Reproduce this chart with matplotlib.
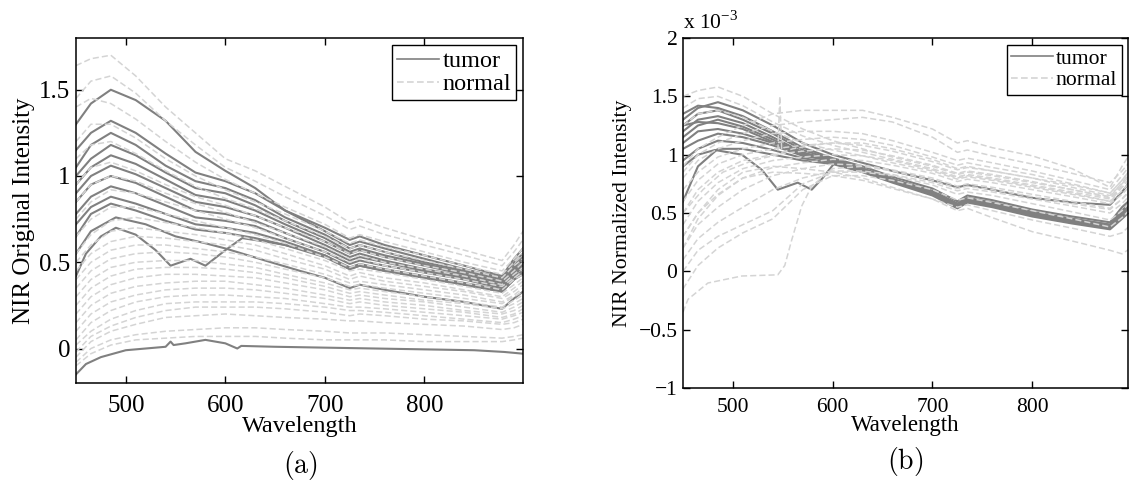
import numpy as np
import matplotlib.pyplot as plt
from matplotlib.lines import Line2D

plt.rcParams['font.family'] = ['Liberation Serif', 'DejaVu Serif']
plt.rcParams['mathtext.fontset'] = 'stix'

# common wavelength grid (nm) used by most spectra
wl = [450, 465, 485, 510, 540, 570, 600, 630, 660, 700, 725, 735, 760, 800, 840, 878, 890, 899]

# ---------------- (a) original intensity ----------------
tumor_orig = [
    [1.30, 1.42, 1.50, 1.44, 1.32, 1.14, 1.03, 0.93, 0.80, 0.70, 0.63, 0.65, 0.60, 0.54, 0.48, 0.42, 0.52, 0.58],
    [1.15, 1.25, 1.32, 1.25, 1.13, 1.02, 0.97, 0.90, 0.80, 0.68, 0.60, 0.62, 0.58, 0.52, 0.46, 0.41, 0.50, 0.55],
    [1.05, 1.18, 1.25, 1.18, 1.06, 0.97, 0.93, 0.86, 0.76, 0.66, 0.58, 0.60, 0.56, 0.50, 0.45, 0.40, 0.48, 0.53],
    [1.00, 1.10, 1.18, 1.12, 1.02, 0.93, 0.90, 0.83, 0.74, 0.64, 0.56, 0.58, 0.54, 0.49, 0.44, 0.39, 0.47, 0.52],
    [0.95, 1.05, 1.12, 1.07, 0.98, 0.89, 0.86, 0.80, 0.72, 0.62, 0.55, 0.57, 0.53, 0.48, 0.43, 0.38, 0.46, 0.50],
    [0.90, 1.00, 1.06, 1.01, 0.93, 0.85, 0.82, 0.77, 0.70, 0.60, 0.53, 0.55, 0.51, 0.46, 0.42, 0.37, 0.45, 0.49],
    [0.85, 0.95, 1.00, 0.96, 0.88, 0.80, 0.78, 0.74, 0.67, 0.58, 0.51, 0.53, 0.50, 0.45, 0.41, 0.36, 0.44, 0.48],
    [0.78, 0.88, 0.94, 0.90, 0.83, 0.76, 0.74, 0.71, 0.64, 0.56, 0.49, 0.51, 0.48, 0.44, 0.40, 0.35, 0.43, 0.47],
    [0.72, 0.82, 0.88, 0.84, 0.78, 0.72, 0.70, 0.67, 0.62, 0.54, 0.47, 0.49, 0.46, 0.42, 0.38, 0.34, 0.42, 0.45],
    [0.65, 0.78, 0.84, 0.80, 0.74, 0.69, 0.67, 0.64, 0.60, 0.53, 0.46, 0.48, 0.45, 0.41, 0.37, 0.33, 0.40, 0.44],
]
# tumor spectra with their own wavelength samples
dip_wl = [450, 460, 475, 490, 510, 530, 545, 565, 580, 600, 617, 640, 660, 700, 725, 735, 760, 800, 840, 878, 890, 899]
dip_orig = [0.42, 0.55, 0.65, 0.70, 0.66, 0.57, 0.48, 0.52, 0.48, 0.57, 0.64, 0.62, 0.60, 0.54, 0.46, 0.48, 0.45, 0.41, 0.37, 0.33, 0.40, 0.43]
low_wl = [450, 465, 490, 520, 550, 580, 600, 640, 675, 700, 725, 735, 760, 800, 840, 878, 890, 899]
low_orig = [0.55, 0.68, 0.76, 0.72, 0.65, 0.61, 0.58, 0.51, 0.45, 0.41, 0.35, 0.37, 0.34, 0.30, 0.27, 0.23, 0.29, 0.33]
zero_wl = [450, 460, 475, 500, 520, 540, 545, 548, 560, 580, 600, 612, 616, 650, 700, 750, 800, 850, 880, 899]
zero_orig = [-0.15, -0.09, -0.05, -0.01, 0.00, 0.01, 0.04, 0.02, 0.03, 0.05, 0.03, 0.00, 0.015, 0.01, 0.005, 0.0, -0.005, -0.01, -0.02, -0.03]

normal_orig = [
    [1.64, 1.68, 1.70, 1.58, 1.40, 1.25, 1.10, 1.03, 0.94, 0.82, 0.73, 0.75, 0.70, 0.63, 0.57, 0.51, 0.60, 0.68],
    [1.45, 1.55, 1.58, 1.48, 1.32, 1.18, 1.05, 0.97, 0.88, 0.77, 0.69, 0.71, 0.66, 0.60, 0.54, 0.48, 0.56, 0.63],
    [1.40, 1.45, 1.42, 1.33, 1.20, 1.08, 0.98, 0.90, 0.82, 0.72, 0.64, 0.66, 0.62, 0.56, 0.50, 0.45, 0.52, 0.58],
    [1.20, 1.30, 1.30, 1.22, 1.10, 1.00, 0.92, 0.85, 0.78, 0.68, 0.61, 0.63, 0.59, 0.54, 0.48, 0.43, 0.50, 0.55],
    [1.10, 1.18, 1.20, 1.13, 1.03, 0.94, 0.87, 0.81, 0.74, 0.65, 0.58, 0.60, 0.56, 0.51, 0.46, 0.41, 0.48, 0.52],
    [0.95, 1.05, 1.08, 1.03, 0.95, 0.88, 0.83, 0.77, 0.70, 0.62, 0.55, 0.57, 0.53, 0.48, 0.44, 0.39, 0.45, 0.50],
    [0.85, 0.95, 1.00, 0.97, 0.90, 0.84, 0.79, 0.73, 0.67, 0.59, 0.52, 0.54, 0.50, 0.46, 0.42, 0.37, 0.43, 0.47],
    [0.75, 0.85, 0.92, 0.90, 0.85, 0.80, 0.75, 0.70, 0.64, 0.56, 0.50, 0.52, 0.48, 0.44, 0.40, 0.36, 0.41, 0.45],
    [0.65, 0.75, 0.82, 0.82, 0.78, 0.74, 0.70, 0.66, 0.61, 0.53, 0.47, 0.49, 0.46, 0.42, 0.38, 0.34, 0.40, 0.43],
    [0.55, 0.66, 0.74, 0.76, 0.73, 0.70, 0.67, 0.63, 0.58, 0.51, 0.45, 0.46, 0.44, 0.40, 0.36, 0.32, 0.37, 0.41],
    [0.50, 0.60, 0.68, 0.70, 0.68, 0.66, 0.63, 0.60, 0.55, 0.48, 0.42, 0.44, 0.41, 0.38, 0.34, 0.30, 0.35, 0.39],
    [0.45, 0.55, 0.62, 0.65, 0.64, 0.62, 0.60, 0.57, 0.52, 0.46, 0.40, 0.42, 0.39, 0.36, 0.33, 0.29, 0.33, 0.37],
    [0.40, 0.50, 0.57, 0.60, 0.60, 0.58, 0.56, 0.53, 0.49, 0.43, 0.38, 0.39, 0.37, 0.34, 0.31, 0.27, 0.31, 0.35],
    [0.35, 0.45, 0.52, 0.55, 0.56, 0.55, 0.53, 0.50, 0.46, 0.41, 0.36, 0.37, 0.35, 0.32, 0.29, 0.26, 0.30, 0.33],
    [0.30, 0.40, 0.47, 0.50, 0.51, 0.51, 0.49, 0.47, 0.43, 0.38, 0.34, 0.35, 0.33, 0.30, 0.27, 0.24, 0.28, 0.31],
    [0.25, 0.35, 0.42, 0.46, 0.47, 0.47, 0.46, 0.44, 0.41, 0.36, 0.32, 0.33, 0.31, 0.28, 0.26, 0.23, 0.26, 0.29],
    [0.20, 0.30, 0.37, 0.41, 0.43, 0.43, 0.42, 0.41, 0.38, 0.34, 0.30, 0.31, 0.29, 0.27, 0.24, 0.21, 0.24, 0.27],
    [0.15, 0.25, 0.32, 0.36, 0.38, 0.39, 0.39, 0.37, 0.35, 0.31, 0.28, 0.29, 0.27, 0.25, 0.22, 0.20, 0.22, 0.25],
    [0.10, 0.20, 0.27, 0.31, 0.34, 0.35, 0.35, 0.34, 0.32, 0.29, 0.26, 0.27, 0.25, 0.23, 0.21, 0.18, 0.20, 0.23],
    [0.05, 0.15, 0.22, 0.27, 0.30, 0.31, 0.31, 0.30, 0.29, 0.26, 0.24, 0.24, 0.23, 0.21, 0.19, 0.17, 0.19, 0.21],
    [0.02, 0.10, 0.17, 0.22, 0.26, 0.27, 0.27, 0.27, 0.26, 0.24, 0.22, 0.22, 0.21, 0.19, 0.17, 0.15, 0.17, 0.19],
    [-0.02, 0.07, 0.13, 0.18, 0.22, 0.24, 0.24, 0.24, 0.23, 0.21, 0.19, 0.20, 0.19, 0.17, 0.16, 0.14, 0.15, 0.17],
    [-0.05, 0.04, 0.10, 0.14, 0.18, 0.19, 0.20, 0.19, 0.18, 0.17, 0.16, 0.16, 0.15, 0.14, 0.13, 0.11, 0.12, 0.14],
    [-0.08, 0.00, 0.05, 0.08, 0.10, 0.11, 0.12, 0.12, 0.11, 0.10, 0.09, 0.09, 0.09, 0.08, 0.07, 0.06, 0.07, 0.08],
    [-0.10, -0.03, 0.02, 0.05, 0.06, 0.07, 0.07, 0.07, 0.06, 0.05, 0.05, 0.05, 0.05, 0.04, 0.04, 0.04, 0.05, 0.06],
]

# ---------------- (b) normalized intensity (x 1e-3) ----------------
tumor_norm = [
    [1.30, 1.40, 1.45, 1.38, 1.25, 1.10, 1.00, 0.93, 0.86, 0.78, 0.72, 0.74, 0.70, 0.63, 0.59, 0.57, 0.68, 0.78],
    [1.35, 1.42, 1.40, 1.33, 1.20, 1.06, 0.97, 0.90, 0.81, 0.71, 0.60, 0.65, 0.61, 0.53, 0.47, 0.42, 0.55, 0.62],
    [1.25, 1.35, 1.38, 1.30, 1.18, 1.04, 0.96, 0.88, 0.79, 0.69, 0.58, 0.63, 0.59, 0.51, 0.45, 0.40, 0.52, 0.60],
    [1.20, 1.30, 1.33, 1.27, 1.15, 1.02, 0.95, 0.87, 0.78, 0.68, 0.57, 0.62, 0.58, 0.50, 0.44, 0.39, 0.50, 0.58],
    [1.15, 1.25, 1.30, 1.24, 1.13, 1.01, 0.94, 0.86, 0.77, 0.67, 0.56, 0.61, 0.57, 0.49, 0.43, 0.38, 0.49, 0.56],
    [1.25, 1.28, 1.27, 1.22, 1.11, 1.00, 0.94, 0.86, 0.77, 0.66, 0.56, 0.60, 0.56, 0.48, 0.43, 0.38, 0.48, 0.55],
    [1.05, 1.12, 1.18, 1.15, 1.08, 0.99, 0.95, 0.87, 0.78, 0.67, 0.57, 0.61, 0.57, 0.49, 0.44, 0.39, 0.49, 0.57],
    [0.95, 1.05, 1.12, 1.10, 1.04, 0.97, 0.93, 0.86, 0.77, 0.66, 0.55, 0.60, 0.56, 0.48, 0.42, 0.37, 0.47, 0.54],
    [0.60, 0.90, 1.05, 1.05, 1.00, 0.95, 0.92, 0.85, 0.76, 0.65, 0.54, 0.59, 0.55, 0.47, 0.41, 0.36, 0.45, 0.52],
    [1.10, 1.20, 1.22, 1.18, 1.10, 1.00, 0.95, 0.88, 0.79, 0.68, 0.58, 0.62, 0.58, 0.50, 0.45, 0.40, 0.51, 0.58],
]
dipn_wl = [450, 465, 482, 509, 529, 545, 565, 579, 590, 602, 617, 630, 660, 700, 725, 735, 760, 800, 840, 878, 890, 899]
dip_norm = [0.90, 1.00, 1.04, 1.00, 0.87, 0.70, 0.76, 0.70, 0.80, 0.93, 0.92, 0.88, 0.79, 0.68, 0.57, 0.61, 0.57, 0.49, 0.44, 0.39, 0.49, 0.56]

normal_norm = [
    [0.90, 1.05, 1.15, 1.25, 1.35, 1.38, 1.38, 1.38, 1.32, 1.22, 1.10, 1.12, 1.06, 0.99, 0.88, 0.72, 0.90, 1.02],
    [0.85, 1.00, 1.10, 1.18, 1.25, 1.28, 1.30, 1.32, 1.28, 1.15, 1.02, 1.04, 0.99, 0.92, 0.84, 0.76, 0.86, 0.95],
    [1.50, 1.55, 1.58, 1.50, 1.35, 1.22, 1.12, 1.05, 0.98, 0.90, 0.83, 0.85, 0.82, 0.76, 0.70, 0.64, 0.76, 0.86],
    [1.40, 1.48, 1.50, 1.42, 1.28, 1.16, 1.08, 1.02, 0.96, 0.88, 0.81, 0.83, 0.80, 0.74, 0.68, 0.62, 0.74, 0.84],
    [1.25, 1.35, 1.38, 1.32, 1.20, 1.10, 1.04, 0.99, 0.93, 0.86, 0.79, 0.81, 0.78, 0.72, 0.66, 0.60, 0.72, 0.81],
    [0.80, 0.95, 1.05, 1.12, 1.18, 1.20, 1.20, 1.18, 1.12, 1.02, 0.95, 0.97, 0.93, 0.86, 0.78, 0.70, 0.82, 0.92],
    [0.70, 0.85, 0.98, 1.05, 1.10, 1.13, 1.15, 1.13, 1.08, 0.98, 0.91, 0.93, 0.89, 0.83, 0.75, 0.67, 0.78, 0.88],
    [0.60, 0.78, 0.92, 1.00, 1.05, 1.08, 1.10, 1.08, 1.03, 0.94, 0.87, 0.89, 0.86, 0.80, 0.72, 0.65, 0.75, 0.84],
    [0.50, 0.70, 0.85, 0.95, 1.00, 1.03, 1.05, 1.04, 0.99, 0.91, 0.84, 0.86, 0.83, 0.77, 0.70, 0.63, 0.72, 0.80],
    [0.40, 0.60, 0.76, 0.88, 0.95, 0.98, 1.00, 0.99, 0.95, 0.87, 0.80, 0.82, 0.79, 0.73, 0.67, 0.60, 0.69, 0.77],
    [0.30, 0.50, 0.66, 0.80, 0.89, 0.93, 0.96, 0.95, 0.91, 0.84, 0.77, 0.79, 0.76, 0.70, 0.64, 0.58, 0.66, 0.74],
    [0.20, 0.40, 0.55, 0.70, 0.82, 0.88, 0.92, 0.91, 0.87, 0.80, 0.73, 0.75, 0.72, 0.66, 0.60, 0.54, 0.62, 0.70],
    [0.10, 0.28, 0.42, 0.55, 0.70, 0.80, 0.86, 0.86, 0.83, 0.76, 0.69, 0.71, 0.68, 0.62, 0.56, 0.50, 0.58, 0.66],
    [0.00, 0.18, 0.30, 0.40, 0.52, 0.75, 0.85, 0.85, 0.82, 0.74, 0.66, 0.68, 0.65, 0.58, 0.51, 0.44, 0.52, 0.60],
    [-0.15, 0.05, 0.20, 0.33, 0.45, 0.70, 0.82, 0.82, 0.78, 0.70, 0.61, 0.63, 0.59, 0.52, 0.45, 0.38, 0.46, 0.54],
    [0.20, 0.45, 0.65, 0.80, 0.85, 0.84, 0.82, 0.78, 0.71, 0.62, 0.55, 0.57, 0.52, 0.44, 0.37, 0.30, 0.33, 0.40],
    [0.30, 0.50, 0.70, 0.85, 0.90, 0.88, 0.85, 0.80, 0.72, 0.62, 0.52, 0.54, 0.46, 0.34, 0.26, 0.18, 0.15, 0.20],
]
jump_wl = [450, 455, 475, 509, 545, 552, 559, 569, 579, 600, 630, 660, 700, 725, 735, 760, 800, 840, 878, 890, 899]
jump_norm = [-0.35, -0.24, -0.10, -0.04, -0.03, 0.05, 0.27, 0.56, 0.73, 0.88, 0.90, 0.86, 0.78, 0.71, 0.73, 0.70, 0.64, 0.58, 0.53, 0.62, 0.70]
spike_wl = [450, 470, 490, 520, 545, 547, 549, 560, 580, 600, 630, 660, 700, 725, 735, 760, 800, 840, 878, 890, 899]
spike_norm = [0.50, 0.70, 0.85, 0.95, 1.00, 1.50, 1.02, 1.05, 1.08, 1.10, 1.10, 1.05, 0.96, 0.88, 0.90, 0.86, 0.80, 0.74, 0.67, 0.78, 0.88]

tumor_color = '#808080'
normal_color = '#d4d4d4'
W, H = 1129, 487

fig = plt.figure(figsize=(W / 100, H / 100), dpi=100)
ax1 = fig.add_axes([76 / W, (H - 383) / H, (523 - 76) / W, (383 - 38) / H])
ax2 = fig.add_axes([683 / W, (H - 388) / H, (1128 - 683) / W, (388 - 38) / H])


def draw(ax, tumors, normals):
    for x, y in tumors:
        ax.plot(x, y, '-', color=tumor_color, lw=1.5)
    for x, y in normals:
        ax.plot(x, y, '--', color=normal_color, lw=1.1, dashes=(4, 2))


draw(ax1,
     [(wl, t) for t in tumor_orig] + [(dip_wl, dip_orig), (low_wl, low_orig), (zero_wl, zero_orig)],
     [(wl, n) for n in normal_orig])
draw(ax2,
     [(wl, t) for t in tumor_norm] + [(dipn_wl, dip_norm)],
     [(wl, n) for n in normal_norm] + [(jump_wl, jump_norm), (spike_wl, spike_norm)])

handles = [Line2D([], [], color=tumor_color, lw=1.2),
           Line2D([], [], color=normal_color, lw=1.2, ls='--', dashes=(4, 2))]

ax1.set_xlim(450, 899)
ax1.set_ylim(-0.2, 1.8)
ax1.set_xticks([500, 600, 700, 800])
ax1.set_yticks([0, 0.5, 1, 1.5], ['0', '0.5', '1', '1.5'])
ax1.tick_params(direction='in', top=True, right=True, length=5, width=1,
                labelsize=18, pad=4)
ax1.tick_params(axis='x', pad=9)
ax1.set_xlabel('Wavelength', fontsize=17.5, labelpad=-1)
ax1.set_ylabel('NIR Original Intensity', fontsize=18, labelpad=3)
leg1 = ax1.legend(handles, ['tumor', 'normal'], loc='upper right', fontsize=17.5,
                  frameon=True, fancybox=False, edgecolor='black', framealpha=1,
                  handlelength=1.7, handletextpad=0.15, labelspacing=0.05,
                  borderpad=0.2, borderaxespad=0.3)
leg1.get_frame().set_linewidth(1.0)

ax2.set_xlim(450, 896)
ax2.set_ylim(-1, 2)
ax2.set_xticks([500, 600, 700, 800])
ax2.set_yticks([-1, -0.5, 0, 0.5, 1, 1.5, 2],
               ['\u22121', '\u22120.5', '0', '0.5', '1', '1.5', '2'])
ax2.tick_params(direction='in', top=True, right=True, length=5, width=1,
                labelsize=15.5, pad=4)
ax2.tick_params(axis='x', pad=7)
ax2.set_xlabel('Wavelength', fontsize=16.5, labelpad=-1)
ax2.set_ylabel('NIR Normalized Intensity', fontsize=15.7, labelpad=5)
ax2.text(0.0, 1.012, 'x 10$^{\\mathregular{\u22123}}$',
         transform=ax2.transAxes, ha='left', va='bottom', fontsize=15.5)
leg2 = ax2.legend(handles, ['tumor', 'normal'], loc='upper right', fontsize=15.6,
                  frameon=True, fancybox=False, edgecolor='black', framealpha=1,
                  handlelength=1.9, handletextpad=0.15, labelspacing=0.05,
                  borderpad=0.2, borderaxespad=0.3)
leg2.get_frame().set_linewidth(1.0)

for ax in (ax1, ax2):
    for s in ax.spines.values():
        s.set_linewidth(1.1)

fig.text(300 / W, 1 - 465 / H, r'$\mathrm{(a)}$', ha='center', va='center',
         fontsize=20, math_fontfamily='cm')
fig.text(905 / W, 1 - 462 / H, r'$\mathrm{(b)}$', ha='center', va='center',
         fontsize=20, math_fontfamily='cm')

fig.savefig('out.png', dpi=100)
